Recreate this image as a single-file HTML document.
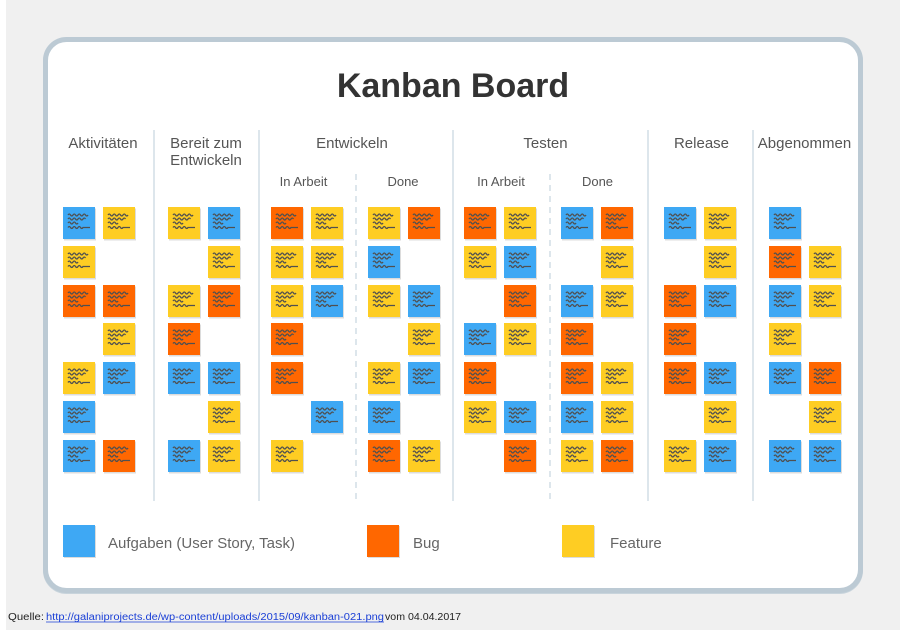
<!DOCTYPE html>
<html><head><meta charset="utf-8"><style>
html,body{margin:0;padding:0;background:#fff;width:900px;height:632px;overflow:hidden}
svg{display:block}
text{font-family:"Liberation Sans",sans-serif}
</style></head><body>
<svg width="900" height="632" viewBox="0 0 900 632" xmlns="http://www.w3.org/2000/svg">
<defs>
<path id="sq" d="M5 8 q1.25 -2 2.5 0 t2.5 0 t2.5 0 t2.5 0 t2.5 0 t2.5 0 t2.5 0 t2.5 0 M5 12 q1.25 -2 2.5 0 t2.5 0 t2.5 0 t2.5 0 t2.5 0 t2.5 0 t2.5 0 M5 16 q1.25 -2 2.5 0 t2.5 0 t2.5 0 t2.5 0 M5 20.5 q1.25 -2 2.5 0 t2.5 0 t2.5 0 t2.5 0 t2.5 0 t2.5 0 l7 0" fill="none" stroke="#505050" stroke-width="1.3"/>
<symbol id="nB" overflow="visible"><rect x="1" y="1.5" width="32" height="32" fill="#dcdcdc"/><rect width="32" height="32" fill="#3ea8f4"/><use href="#sq"/></symbol>
<symbol id="nO" overflow="visible"><rect x="1" y="1.5" width="32" height="32" fill="#dcdcdc"/><rect width="32" height="32" fill="#ff6700"/><use href="#sq"/></symbol>
<symbol id="nY" overflow="visible"><rect x="1" y="1.5" width="32" height="32" fill="#dcdcdc"/><rect width="32" height="32" fill="#fecd23"/><use href="#sq"/></symbol>
</defs>
<rect x="0" y="0" width="900" height="632" fill="#ffffff"/>
<rect x="6" y="0" width="894" height="630" fill="#f0f0f0"/>
<rect x="45.5" y="40.5" width="815" height="551" rx="21" ry="21" fill="#c8d4dc" stroke="#c8d4dc" stroke-width="5"/>
<rect x="45.5" y="39.5" width="815" height="551" rx="21" ry="21" fill="#ffffff" stroke="#bccad4" stroke-width="5"/>

<text x="453" y="97" text-anchor="middle" font-size="34" font-weight="bold" fill="#333">Kanban Board</text>

<g font-size="15" fill="#555" text-anchor="middle">
<text x="103" y="148">Aktivitäten</text>
<text x="206" y="148">Bereit zum</text>
<text x="206" y="165">Entwickeln</text>
<text x="352" y="148">Entwickeln</text>
<text x="545.5" y="148">Testen</text>
<text x="701.5" y="148">Release</text>
<text x="804.5" y="148">Abgenommen</text>
</g>
<g font-size="13" fill="#555" text-anchor="middle">
<text x="303.5" y="186">In Arbeit</text>
<text x="403" y="186">Done</text>
<text x="501" y="186">In Arbeit</text>
<text x="597.5" y="186">Done</text>
</g>

<g stroke="#d2dee6" stroke-width="1.5">
<line x1="154" y1="130" x2="154" y2="501"/>
<line x1="259" y1="130" x2="259" y2="501"/>
<line x1="453" y1="130" x2="453" y2="501"/>
<line x1="648" y1="130" x2="648" y2="501"/>
<line x1="753" y1="130" x2="753" y2="501"/>
<line x1="356" y1="174" x2="356" y2="501" stroke-dasharray="6 5"/>
<line x1="550" y1="174" x2="550" y2="501" stroke-dasharray="6 5"/>
</g>

<!-- Aktivitäten -->
<use href="#nB" x="63" y="207"/><use href="#nY" x="103" y="207"/>
<use href="#nY" x="63" y="246"/>
<use href="#nO" x="63" y="285"/><use href="#nO" x="103" y="285"/>
<use href="#nY" x="103" y="323"/>
<use href="#nY" x="63" y="362"/><use href="#nB" x="103" y="362"/>
<use href="#nB" x="63" y="401"/>
<use href="#nB" x="63" y="440"/><use href="#nO" x="103" y="440"/>

<!-- Bereit -->
<use href="#nY" x="168" y="207"/><use href="#nB" x="208" y="207"/>
<use href="#nY" x="208" y="246"/>
<use href="#nY" x="168" y="285"/><use href="#nO" x="208" y="285"/>
<use href="#nO" x="168" y="323"/>
<use href="#nB" x="168" y="362"/><use href="#nB" x="208" y="362"/>
<use href="#nY" x="208" y="401"/>
<use href="#nB" x="168" y="440"/><use href="#nY" x="208" y="440"/>

<!-- Entwickeln In Arbeit -->
<use href="#nO" x="271" y="207"/><use href="#nY" x="311" y="207"/>
<use href="#nY" x="271" y="246"/><use href="#nY" x="311" y="246"/>
<use href="#nY" x="271" y="285"/><use href="#nB" x="311" y="285"/>
<use href="#nO" x="271" y="323"/>
<use href="#nO" x="271" y="362"/>
<use href="#nB" x="311" y="401"/>
<use href="#nY" x="271" y="440"/>

<!-- Entwickeln Done -->
<use href="#nY" x="368" y="207"/><use href="#nO" x="408" y="207"/>
<use href="#nB" x="368" y="246"/>
<use href="#nY" x="368" y="285"/><use href="#nB" x="408" y="285"/>
<use href="#nY" x="408" y="323"/>
<use href="#nY" x="368" y="362"/><use href="#nB" x="408" y="362"/>
<use href="#nB" x="368" y="401"/>
<use href="#nO" x="368" y="440"/><use href="#nY" x="408" y="440"/>

<!-- Testen In Arbeit -->
<use href="#nO" x="464" y="207"/><use href="#nY" x="504" y="207"/>
<use href="#nY" x="464" y="246"/><use href="#nB" x="504" y="246"/>
<use href="#nO" x="504" y="285"/>
<use href="#nB" x="464" y="323"/><use href="#nY" x="504" y="323"/>
<use href="#nO" x="464" y="362"/>
<use href="#nY" x="464" y="401"/><use href="#nB" x="504" y="401"/>
<use href="#nO" x="504" y="440"/>

<!-- Testen Done -->
<use href="#nB" x="561" y="207"/><use href="#nO" x="601" y="207"/>
<use href="#nY" x="601" y="246"/>
<use href="#nB" x="561" y="285"/><use href="#nY" x="601" y="285"/>
<use href="#nO" x="561" y="323"/>
<use href="#nO" x="561" y="362"/><use href="#nY" x="601" y="362"/>
<use href="#nB" x="561" y="401"/><use href="#nY" x="601" y="401"/>
<use href="#nY" x="561" y="440"/><use href="#nO" x="601" y="440"/>

<!-- Release -->
<use href="#nB" x="664" y="207"/><use href="#nY" x="704" y="207"/>
<use href="#nY" x="704" y="246"/>
<use href="#nO" x="664" y="285"/><use href="#nB" x="704" y="285"/>
<use href="#nO" x="664" y="323"/>
<use href="#nO" x="664" y="362"/><use href="#nB" x="704" y="362"/>
<use href="#nY" x="704" y="401"/>
<use href="#nY" x="664" y="440"/><use href="#nB" x="704" y="440"/>

<!-- Abgenommen -->
<use href="#nB" x="769" y="207"/>
<use href="#nO" x="769" y="246"/><use href="#nY" x="809" y="246"/>
<use href="#nB" x="769" y="285"/><use href="#nY" x="809" y="285"/>
<use href="#nY" x="769" y="323"/>
<use href="#nB" x="769" y="362"/><use href="#nO" x="809" y="362"/>
<use href="#nY" x="809" y="401"/>
<use href="#nB" x="769" y="440"/><use href="#nB" x="809" y="440"/>

<!-- Legend -->
<rect x="64" y="526" width="32" height="32" fill="#dcdcdc"/>
<rect x="63" y="525" width="32" height="32" fill="#3ea8f4"/>
<rect x="368" y="526" width="32" height="32" fill="#dcdcdc"/>
<rect x="367" y="525" width="32" height="32" fill="#ff6700"/>
<rect x="563" y="526" width="32" height="32" fill="#dcdcdc"/>
<rect x="562" y="525" width="32" height="32" fill="#fecd23"/>
<g font-size="15" fill="#666">
<text x="108" y="548">Aufgaben (User Story, Task)</text>
<text x="413" y="548">Bug</text>
<text x="610" y="548">Feature</text>
</g>

<!-- Source -->
<g font-size="10">
<text x="8" y="620" fill="#222" textLength="36" lengthAdjust="spacingAndGlyphs">Quelle:</text>
<text x="46" y="620" fill="#1a3fd6" textLength="338" lengthAdjust="spacingAndGlyphs">http://galaniprojects.de/wp-content/uploads/2015/09/kanban-021.png</text>
<text x="385" y="620" fill="#222" textLength="76" lengthAdjust="spacingAndGlyphs">vom 04.04.2017</text>
</g>
<line x1="46" y1="622" x2="384" y2="622" stroke="#1a3fd6" stroke-width="0.8"/>
</svg>
</body></html>
